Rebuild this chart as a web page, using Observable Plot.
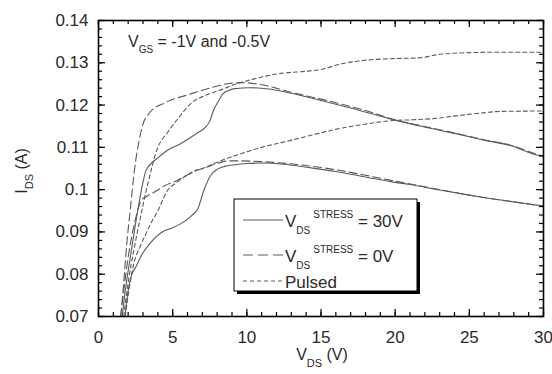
<!DOCTYPE html>
<html>
<head>
<meta charset="utf-8">
<script src="https://cdn.jsdelivr.net/npm/d3@7"></script>
<script src="https://cdn.jsdelivr.net/npm/@observablehq/plot@0.6"></script>
<style>
  html, body { margin: 0; padding: 0; background: #fff; overflow: hidden; }
  #chart svg { display: block; font-family: 'Liberation Sans', Arial, Helvetica, sans-serif !important; }
</style>
</head>
<body>
<div id="chart"></div>
<script>
// ---- Data (V_DS in volts, I_DS in amperes) ----
// V_GS = -0.5 V, V_DS stress = 30 V (solid)
const vSolidHi = [1.6, 1.8, 2.1, 2.5, 2.9, 3.2, 4.0, 4.65, 5.5, 6.1, 6.7, 7.2, 7.5, 7.75, 8.1, 8.4, 8.8, 9.2, 10.2, 11.5, 13, 15, 17, 19.6, 22, 24, 26, 28, 29, 30];
const iSolidHi = [0.070, 0.076, 0.083, 0.092, 0.100, 0.1045, 0.1075, 0.1093, 0.1108, 0.1121, 0.1135, 0.1147, 0.1162, 0.1187, 0.121, 0.1227, 0.1235, 0.1239, 0.1241, 0.1238, 0.1228, 0.1211, 0.1193, 0.1168, 0.1148, 0.1133, 0.1117, 0.1102, 0.1088, 0.1078];
// V_GS = -0.5 V, V_DS stress = 0 V (long dash)
const vDashHi = [1.5, 1.7, 1.9, 2.16, 2.4, 2.7, 3.0, 3.4, 4.5, 5.9, 7.4, 8.8, 9.7, 11, 12.9, 14, 16.3, 18, 20, 22, 24, 26, 28, 29, 30];
const iDashHi = [0.070, 0.078, 0.087, 0.0958, 0.104, 0.1109, 0.1155, 0.118, 0.1206, 0.1223, 0.1239, 0.1251, 0.1253, 0.1248, 0.1231, 0.1222, 0.1203, 0.1187, 0.1165, 0.1149, 0.1134, 0.1118, 0.1103, 0.1090, 0.1079];
// V_GS = -0.5 V, pulsed (short dash)
const vPulseHi = [1.7, 2.0, 2.4, 2.8, 3.3, 4.0, 4.65, 5.4, 6.3, 7.2, 8.1, 9.2, 10.5, 12.3, 14, 15, 16.3, 18, 20, 21.7, 23, 25, 27, 30];
const iPulseHi = [0.070, 0.078, 0.086, 0.093, 0.101, 0.110, 0.1135, 0.117, 0.1206, 0.1223, 0.1234, 0.1249, 0.1262, 0.1275, 0.1280, 0.1284, 0.1297, 0.1306, 0.131, 0.1312, 0.132, 0.1324, 0.1325, 0.1325];
// V_GS = -1 V, V_DS stress = 30 V (solid)
const vSolidLo = [1.8, 2.0, 2.2, 2.5, 2.9, 3.4, 4.3, 5.0, 5.8, 6.3, 6.7, 7.1, 7.55, 8.0, 8.5, 9.2, 10, 11.1, 12.5, 14, 16, 18, 19.7, 21, 23, 25, 26.4, 28, 30];
const iSolidLo = [0.0705, 0.0761, 0.0795, 0.0816, 0.0845, 0.0870, 0.0900, 0.0910, 0.0925, 0.0939, 0.0955, 0.0998, 0.1033, 0.1048, 0.1055, 0.1059, 0.1062, 0.1063, 0.1060, 0.1053, 0.1043, 0.1030, 0.1019, 0.1012, 0.0999, 0.0987, 0.0979, 0.0971, 0.0961];
// V_GS = -1 V, V_DS stress = 0 V (long dash)
const vDashLo = [1.5, 1.7, 2.0, 2.3, 2.6, 2.9, 3.3, 3.8, 4.5, 5.2, 5.9, 6.6, 7.2, 8.0, 8.8, 9.6, 10.5, 12, 14, 16, 18, 20, 22, 25, 28, 30];
const iDashLo = [0.070, 0.076, 0.084, 0.090, 0.0945, 0.0975, 0.0985, 0.0995, 0.101, 0.102, 0.1033, 0.1045, 0.1052, 0.1062, 0.1068, 0.1068, 0.1067, 0.1064, 0.1057, 0.1047, 0.1034, 0.1020, 0.1007, 0.0987, 0.0971, 0.0961];
// V_GS = -1 V, pulsed (short dash)
const vPulseLo = [1.8, 2.0, 2.4, 2.8, 3.2, 3.6, 4.0, 4.65, 5.2, 6.0, 6.5, 7.0, 8.0, 9.6, 11, 12.9, 14.5, 16.3, 18, 19.7, 21, 22.6, 24.2, 25.5, 27.1, 30];
const iPulseLo = [0.070, 0.075, 0.0828, 0.0865, 0.0896, 0.0925, 0.095, 0.0998, 0.1015, 0.1035, 0.1045, 0.105, 0.1065, 0.1085, 0.1100, 0.1116, 0.113, 0.1145, 0.1155, 0.1163, 0.1165, 0.1168, 0.1175, 0.118, 0.1185, 0.1186];

// ---- Axis ticks ----
const xTicks = [0, 5, 10, 15, 20, 25, 30];
const xMinor = d3.range(0, 31, 1);
const yTicks = [0.07, 0.08, 0.09, 0.10, 0.11, 0.12, 0.13, 0.14];
const yMinor = d3.range(0, 36).map(k => 0.07 + k * 0.002);

// ---- Legend texts ----
const legendLabels = [
  {main: "V", sub: "DS", sup: "STRESS", rest: " = 30V", dash: null},
  {main: "V", sub: "DS", sup: "STRESS", rest: " = 0V", dash: "10,5"},
  {main: "Pulsed", sub: "", sup: "", rest: "", dash: "4,3"}
];

const rows = (vs, is) => vs.map((v, k) => ({v, i: is[k]}));
const curves = [
  {data: rows(vSolidHi, iSolidHi), dash: null},
  {data: rows(vSolidLo, iSolidLo), dash: null},
  {data: rows(vDashHi, iDashHi), dash: "8,4"},
  {data: rows(vDashLo, iDashLo), dash: "8,4"},
  {data: rows(vPulseHi, iPulseHi), dash: "4,3"},
  {data: rows(vPulseLo, iPulseLo), dash: "4,3"}
];

const lineColor = "#5a5a5a";
const textColor = "#2a2a2a";
const font = "'Liberation Sans', Arial, Helvetica, sans-serif";

// plot box size in px (used for tick insets)
const W = 552, H = 374, ML = 98, MR = 9, MT = 20, MB = 58;
const PW = W - ML - MR, PH = H - MT - MB;
const minorLen = 4, majorLen = 7;

const chart = Plot.plot({
  width: W,
  height: H,
  marginLeft: ML,
  marginRight: MR,
  marginTop: MT,
  marginBottom: MB,
  x: {domain: [0, 30], label: null},
  y: {domain: [0.07, 0.14], label: null},
  marks: [
    ...curves.map(c => Plot.line(c.data, {
      x: "v", y: "i", stroke: lineColor, strokeWidth: 1.1,
      strokeDasharray: c.dash, curve: "monotone-x"
    })),
    // inward ticks on all four sides
    Plot.tickX(xMinor, {x: d => d, stroke: "#000", strokeWidth: 1.2, insetTop: PH - minorLen}),
    Plot.tickX(xMinor, {x: d => d, stroke: "#000", strokeWidth: 1.2, insetBottom: PH - minorLen}),
    Plot.tickX(xTicks, {x: d => d, stroke: "#000", strokeWidth: 1.2, insetTop: PH - majorLen}),
    Plot.tickX(xTicks, {x: d => d, stroke: "#000", strokeWidth: 1.2, insetBottom: PH - majorLen}),
    Plot.tickY(yMinor, {y: d => d, stroke: "#000", strokeWidth: 1.2, insetRight: PW - minorLen}),
    Plot.tickY(yMinor, {y: d => d, stroke: "#000", strokeWidth: 1.2, insetLeft: PW - minorLen}),
    Plot.tickY(yTicks, {y: d => d, stroke: "#000", strokeWidth: 1.2, insetRight: PW - majorLen}),
    Plot.tickY(yTicks, {y: d => d, stroke: "#000", strokeWidth: 1.2, insetLeft: PW - majorLen}),
    // tick labels
    Plot.axisX(xTicks, {anchor: "bottom", tickSize: 0, tickPadding: 14, fontSize: 17, fill: textColor, tickFormat: d => String(d)}),
    Plot.axisY(yTicks, {anchor: "left", tickSize: 0, tickPadding: 10, fontSize: 17, fill: textColor, tickFormat: d => String(+d.toFixed(2))}),
    Plot.frame({stroke: "#000", strokeWidth: 1.6})
  ]
});

document.getElementById("chart").appendChild(chart);

// ---- Text with sub/superscripts and legend (added to the Plot SVG) ----
const svg = d3.select(chart);
const g = svg.append("g").attr("font-family", font).attr("fill", textColor).attr("text-anchor", "start");

// y-axis title: I_DS (A)
const yt = g.append("text")
  .attr("transform", "translate(27,171) rotate(-90)")
  .attr("text-anchor", "middle")
  .attr("font-size", 16);
yt.append("tspan").text("I");
yt.append("tspan").attr("font-size", 11).attr("dy", 6).text("DS");
yt.append("tspan").attr("dy", -6).text(" (A)");

// x-axis title: V_DS (V)
const xt = g.append("text")
  .attr("x", 322).attr("y", 360)
  .attr("text-anchor", "middle")
  .attr("font-size", 16);
xt.append("tspan").text("V");
xt.append("tspan").attr("font-size", 11).attr("dy", 7).text("DS");
xt.append("tspan").attr("dy", -7).text(" (V)");

// annotation V_GS = -1V and -0.5V
const an = g.append("text").attr("x", 128).attr("y", 47).attr("font-size", 16).attr("text-anchor", "start");
an.append("tspan").text("V");
an.append("tspan").attr("font-size", 10).attr("dy", 6).text("GS");
an.append("tspan").attr("dy", -6).text(" = -1V and -0.5V");

// legend box with shadow
const lg = svg.append("g").attr("font-family", font).attr("text-anchor", "start");
lg.append("rect").attr("x", 237).attr("y", 202).attr("width", 183).attr("height", 92).attr("fill", "#000");
lg.append("rect").attr("x", 234).attr("y", 199).attr("width", 183).attr("height", 92)
  .attr("fill", "#fff").attr("stroke", "#000").attr("stroke-width", 1);

const rowY = [220, 255, 281];
legendLabels.forEach((d, k) => {
  lg.append("line")
    .attr("x1", 243).attr("x2", 283)
    .attr("y1", rowY[k]).attr("y2", rowY[k])
    .attr("stroke", lineColor).attr("stroke-width", 1.1)
    .attr("stroke-dasharray", d.dash);
  const t = lg.append("text").attr("x", 285).attr("y", rowY[k] + 7)
    .attr("font-size", 17).attr("fill", textColor);
  t.append("tspan").text(d.main);
  if (d.sub) {
    t.append("tspan").attr("font-size", 10).attr("dy", 7).text(d.sub);
    t.append("tspan").attr("font-size", 10).attr("dx", 3).attr("dy", -16).text(d.sup);
    t.append("tspan").attr("dy", 9).text(d.rest);
  }
});
</script>
</body>
</html>
